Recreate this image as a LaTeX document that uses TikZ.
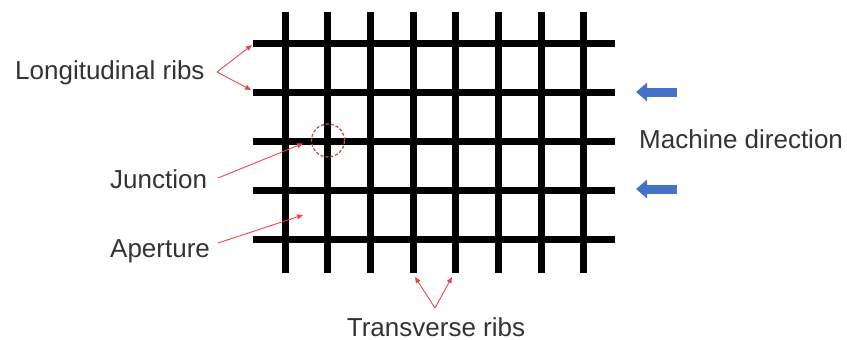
\documentclass[tikz,border=0pt]{standalone}
\usepackage{fontspec}
\setmainfont{Liberation Sans}
\usetikzlibrary{arrows.meta}
\definecolor{ribred}{HTML}{E8474A}
\definecolor{circred}{HTML}{C0504D}
\definecolor{mdblue}{HTML}{4472C4}
\definecolor{txtgray}{HTML}{333333}
\tikzset{
  rib/.style={line width=7pt, black},
  lbl/.style={inner sep=0pt, text=txtgray, font=\fontsize{26}{30}\selectfont},
  pointer/.style={ribred, line width=0.9pt, -{Triangle[length=6pt,width=5pt]}},
  junccircle/.style={circred, line width=1.3pt, dash pattern=on 3pt off 2pt},
  mdarrow/.style={mdblue, line width=9pt, -{Triangle[length=11pt,width=18pt]}}
}
\begin{document}
\begin{tikzpicture}[x=1pt,y=-1pt]
\useasboundingbox (0,0) rectangle (847,340);
% vertical (transverse) ribs
\foreach \i in {0,...,7} {
  \draw[rib] (285+42.67*\i,12) -- (285+42.67*\i,273);
}
% horizontal (longitudinal) ribs
\foreach \j in {0,...,4} {
  \draw[rib] (253,43.5+49*\j) -- (615,43.5+49*\j);
}
% junction circle
\node[junccircle, draw, circle, minimum size=33pt, inner sep=0pt] (junc) at (328,140.5) {};
% labels
\node[lbl, anchor=base west] (lr) at (15,79.5) {Longitudinal ribs};
\node[lbl, anchor=base west] (jn) at (110,188.5) {Junction};
\node[lbl, anchor=base west] (ap) at (110,257) {Aperture};
\node[lbl, anchor=base west] (md) at (639,148.5) {Machine direction};
\node[lbl, anchor=base] (tr) at (436,336) {Transverse ribs};
% pointer coordinates
\coordinate (lrapex) at (217,72);
\coordinate (lrtip1) at (252,45);
\coordinate (lrtip2) at (251,90);
\coordinate (jnstart) at (218,178);
\coordinate (jntip) at (303,143.5);
\coordinate (apstart) at (218,243);
\coordinate (aptip) at (303,215);
\coordinate (trapex) at (435,308);
\coordinate (trtip1) at (415,277);
\coordinate (trtip2) at (452,277);
\draw[pointer] (lrapex) -- (lrtip1);
\draw[pointer] (lrapex) -- (lrtip2);
\draw[pointer] (jnstart) -- (jntip);
\draw[pointer] (apstart) -- (aptip);
\draw[pointer] (trapex) -- (trtip1);
\draw[pointer] (trapex) -- (trtip2);
% machine direction arrows
\coordinate (md1s) at (677,92);
\coordinate (md1e) at (636,92);
\coordinate (md2s) at (677,189);
\coordinate (md2e) at (636,189);
\draw[mdarrow] (md1s) -- (md1e);
\draw[mdarrow] (md2s) -- (md2e);
\end{tikzpicture}
\end{document}
